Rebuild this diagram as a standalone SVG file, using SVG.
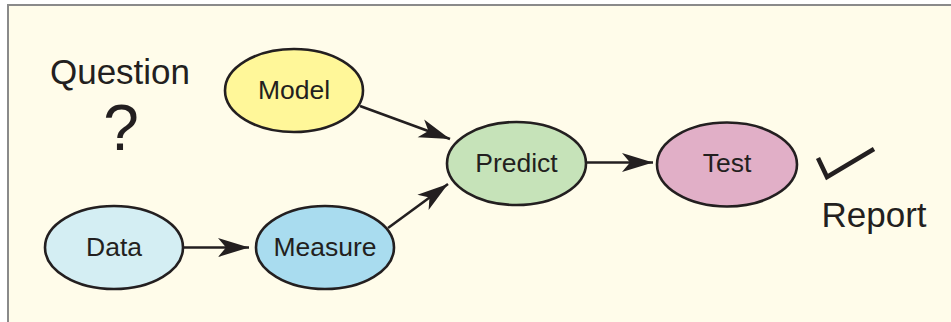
<svg xmlns="http://www.w3.org/2000/svg" width="951" height="322" viewBox="0 0 951 322">
  <defs>
    <style>
      .node ellipse { stroke: #231f20; stroke-width: 2.6; }
      .node text { font-family: "Liberation Sans", Arial, sans-serif; font-size: 26.5px; fill: #231f20; text-anchor: middle; }
      .label { font-family: "Liberation Sans", Arial, sans-serif; fill: #231f20; }
      .edge { stroke: #231f20; stroke-width: 2.6; fill: none; marker-end: url(#head); }
    </style>
    <marker id="head" viewBox="-32 -10 34 20" refX="0" refY="0" markerWidth="34" markerHeight="20" markerUnits="userSpaceOnUse" orient="auto">
      <path d="M0,0 L-31,-9.5 L-23,0 L-31,9.5 Z" fill="#231f20"/>
    </marker>
  </defs>

  <!-- panel -->
  <rect x="8" y="5" width="960" height="340" fill="#fffcea" stroke="#8a8a8a" stroke-width="2"/>

  <!-- free labels -->
  <text class="label" x="120" y="84" font-size="35" text-anchor="middle">Question</text>
  <text class="label" x="121" y="150" font-size="64" text-anchor="middle">?</text>
  <text class="label" x="874" y="227" font-size="35" text-anchor="middle">Report</text>
  <polyline points="818,158 827,177 874,149" fill="none" stroke="#231f20" stroke-width="4.5" stroke-linejoin="miter"/>

  <!-- connectors -->
  <g id="connectors">
    <line class="edge" x1="183" y1="247.5" x2="249" y2="247.5"/>
    <line class="edge" x1="388" y1="228" x2="448" y2="184"/>
    <line class="edge" x1="360" y1="106" x2="450" y2="139"/>
    <line class="edge" x1="586" y1="162.5" x2="653" y2="162.5"/>
  </g>

  <!-- nodes -->
  <g id="model" class="node">
    <ellipse cx="294" cy="90.5" rx="69" ry="41.5" fill="#fff799"/>
    <text x="294" y="99">Model</text>
  </g>
  <g id="predict" class="node">
    <ellipse cx="516.5" cy="163.5" rx="69.5" ry="41.5" fill="#c6e3b9"/>
    <text x="516.5" y="171.5">Predict</text>
  </g>
  <g id="test" class="node">
    <ellipse cx="727" cy="164.5" rx="70" ry="42" fill="#e1afc7"/>
    <text x="727" y="171.5">Test</text>
  </g>
  <g id="data" class="node">
    <ellipse cx="114" cy="247.5" rx="69" ry="41.5" fill="#d4eef3"/>
    <text x="114" y="256">Data</text>
  </g>
  <g id="measure" class="node">
    <ellipse cx="325" cy="247.5" rx="69" ry="41.5" fill="#a9dcef"/>
    <text x="325" y="256">Measure</text>
  </g>
</svg>
